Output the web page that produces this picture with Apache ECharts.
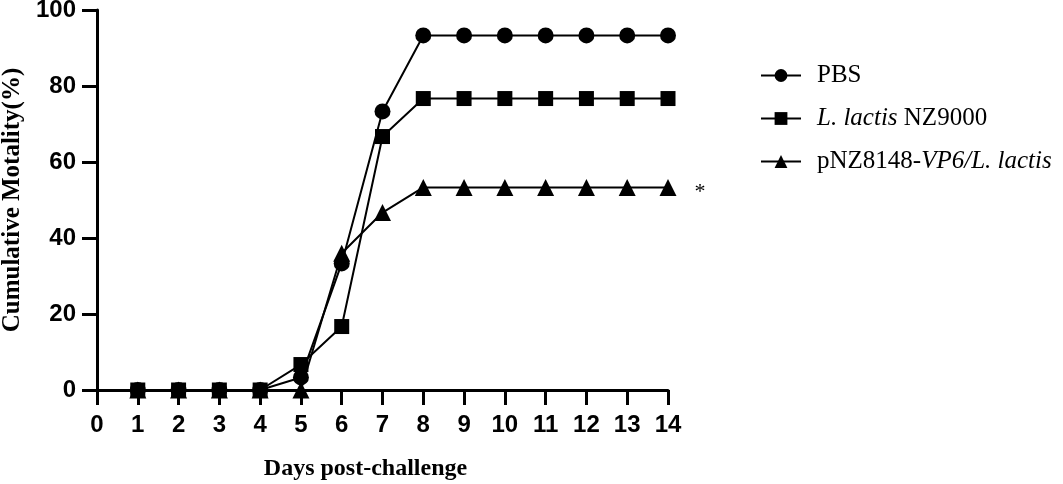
<!DOCTYPE html>
<html>
<head>
<meta charset="utf-8">
<script src="https://cdn.jsdelivr.net/npm/echarts@6/dist/echarts.min.js"></script>
<style>html,body{margin:0;padding:0;background:#fff}#c{width:1063px;height:484px}</style>
</head>
<body>
<div id="c"></div>
<script>
var days = [1, 2, 3, 4, 5, 6, 7, 8, 9, 10, 11, 12, 13, 14];
var pbs = [0, 0, 0, 0, 3.3, 33.3, 73.3, 93.3, 93.3, 93.3, 93.3, 93.3, 93.3, 93.3];
var nz9000 = [0, 0, 0, 0, 6.7, 16.7, 66.7, 76.7, 76.7, 76.7, 76.7, 76.7, 76.7, 76.7];
var vp6 = [0, 0, 0, 0, 0, 36, 46.7, 53.3, 53.3, 53.3, 53.3, 53.3, 53.3, 53.3];
var seriesNames = ['PBS', 'L. lactis NZ9000', 'pNZ8148-VP6/L. lactis'];
var xTicks = [0, 14, 1];
var yTicks = [0, 100, 20];
var significance = '*';

function pairs(vals) { return days.map(function (d, i) { return [d, vals[i]]; }); }

var chart = echarts.init(document.getElementById('c'), null, {renderer: 'canvas'});
var serif = '"Liberation Serif", "Times New Roman", serif';
var sans = '"Liberation Sans", Arial, sans-serif';

var vpData = pairs(vp6).map(function (p, i) {
  if (i === days.length - 1) {
    return {value: p, label: {show: true, position: 'right', distance: 18, formatter: significance,
      fontFamily: serif, fontSize: 22, color: '#000', offset: [0, 5]}};
  }
  return p;
});

function mk(name, data, symbol, size) {
  return {
    name: name, type: 'line', data: data, symbol: symbol, symbolSize: size,
    lineStyle: {color: '#000', width: 2}, itemStyle: {color: '#000'},
    animation: false, z: 3
  };
}

chart.setOption({
  animation: false,
  grid: {left: 97, right: 395, top: 10, bottom: 94, containLabel: false, outerBoundsMode: 'none'},
  xAxis: {
    type: 'value', min: xTicks[0], max: xTicks[1], interval: xTicks[2],
    axisLine: {show: true, lineStyle: {color: '#000', width: 3}},
    axisTick: {show: true, inside: false, length: 15, lineStyle: {color: '#000', width: 3}},
    axisLabel: {color: '#000', fontFamily: sans, fontWeight: 'bold', fontSize: 24, margin: 23},
    splitLine: {show: false},
    name: 'Days post-challenge', nameLocation: 'middle', nameGap: 67,
    nameTextStyle: {color: '#000', fontFamily: serif, fontWeight: 'bold', fontSize: 24, padding: [0, 34, 0, 0]}
  },
  yAxis: {
    type: 'value', min: yTicks[0], max: yTicks[1], interval: yTicks[2],
    axisLine: {show: true, lineStyle: {color: '#000', width: 3}},
    axisTick: {show: true, inside: false, length: 15, lineStyle: {color: '#000', width: 3}},
    axisLabel: {color: '#000', fontFamily: sans, fontWeight: 'bold', fontSize: 24, margin: 21},
    splitLine: {show: false},
    name: 'Cumulative Motality(%)', nameLocation: 'middle', nameGap: 68,
    nameTextStyle: {color: '#000', fontFamily: serif, fontWeight: 'bold', fontSize: 25}
  },
  legend: {
    orient: 'vertical', left: 755, top: 58, itemGap: 18, itemWidth: 40, itemHeight: 16,
    data: seriesNames,
    textStyle: {color: '#000', fontFamily: serif, fontSize: 25, padding: [0, 0, 0, 11],
      rich: {i: {fontFamily: serif, fontStyle: 'italic', fontSize: 25, color: '#000'}}},
    formatter: function (n) {
      if (n === seriesNames[1]) return '{i|L. lactis} NZ9000';
      if (n === seriesNames[2]) return 'pNZ8148-{i|VP6/L. lactis}';
      return n;
    }
  },
  series: [
    mk(seriesNames[0], pairs(pbs), 'circle', 16),
    mk(seriesNames[1], pairs(nz9000), 'rect', 15),
    mk(seriesNames[2], vpData, 'triangle', 17)
  ]
});
</script>
</body>
</html>
